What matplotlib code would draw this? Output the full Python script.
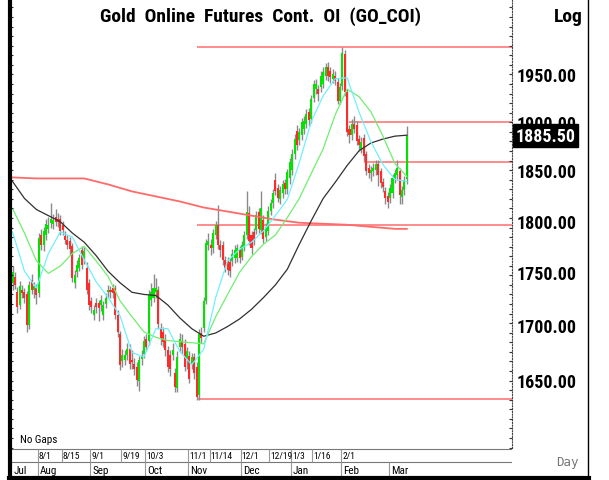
import os
import matplotlib
matplotlib.use("Agg")
import matplotlib.pyplot as plt
from matplotlib import font_manager as fm
from matplotlib.lines import Line2D
from matplotlib.ticker import NullLocator
import numpy as np

# daily bars, oldest first (mid Jul .. Mar)
opens = [1740, 1746, 1731, 1719, 1733, 1731, 1729, 1700, 1743, 1733, 1735, 1730, 1786, 1776, 1786, 1792, 1798, 1797, 1804, 1802,
         1802, 1796, 1785, 1781, 1780, 1775, 1740, 1750, 1754, 1771, 1763, 1754, 1740, 1723, 1710, 1721, 1721, 1719, 1710, 1720,
         1731, 1733, 1735, 1735, 1710, 1692, 1667, 1668, 1673, 1678, 1668, 1665, 1662, 1649, 1669, 1674, 1687, 1686, 1724, 1726,
         1731, 1733, 1698, 1694, 1687, 1677, 1673, 1673, 1656, 1643, 1680, 1686, 1683, 1670, 1672, 1664, 1671, 1662, 1637, 1693,
         1698, 1723, 1776, 1776, 1773, 1786, 1796, 1776, 1776, 1762, 1761, 1760, 1761, 1764, 1764, 1771, 1765, 1773, 1786, 1808,
         1786, 1789, 1791, 1809, 1791, 1801, 1784, 1790, 1810, 1817, 1840, 1832, 1821, 1827, 1837, 1831, 1842, 1850, 1867, 1890,
         1881, 1886, 1892, 1898, 1910, 1903, 1925, 1934, 1934, 1936, 1939, 1948, 1957, 1953, 1945, 1948, 1942, 1922, 1937, 1971,
         1931, 1892, 1886, 1898, 1897, 1882, 1872, 1883, 1867, 1853, 1847, 1849, 1850, 1857, 1849, 1838, 1829, 1824, 1822, 1827,
         1842, 1845, 1849, 1823, 1830, 1841]
highs = [1756, 1750, 1736, 1742, 1738, 1735, 1732, 1742, 1748, 1741, 1739, 1788, 1792, 1794, 1802, 1804, 1817, 1807, 1812, 1808,
         1806, 1800, 1790, 1786, 1784, 1778, 1752, 1762, 1768, 1775, 1774, 1760, 1744, 1727, 1719, 1726, 1724, 1728, 1723, 1730,
         1738, 1737, 1739, 1738, 1714, 1695, 1678, 1677, 1684, 1683, 1677, 1670, 1666, 1672, 1677, 1690, 1692, 1733, 1740, 1748,
         1745, 1737, 1702, 1699, 1692, 1681, 1677, 1684, 1661, 1676, 1693, 1692, 1687, 1680, 1676, 1675, 1675, 1666, 1697, 1699,
         1727, 1782, 1788, 1782, 1792, 1800, 1815, 1781, 1780, 1766, 1765, 1764, 1772, 1776, 1777, 1775, 1780, 1790, 1829, 1814,
         1790, 1793, 1810, 1813, 1829, 1806, 1798, 1814, 1821, 1831, 1847, 1836, 1834, 1840, 1841, 1852, 1863, 1872, 1887, 1896,
         1893, 1904, 1906, 1913, 1914, 1928, 1944, 1945, 1938, 1953, 1958, 1962, 1963, 1957, 1955, 1953, 1946, 1940, 1979, 1976,
         1934, 1896, 1903, 1906, 1901, 1886, 1884, 1887, 1870, 1857, 1855, 1858, 1861, 1861, 1853, 1842, 1833, 1828, 1836, 1846,
         1851, 1861, 1853, 1834, 1844, 1895]
lows = [1733, 1734, 1712, 1715, 1726, 1721, 1694, 1697, 1729, 1726, 1720, 1727, 1771, 1770, 1781, 1788, 1793, 1792, 1795, 1794,
        1786, 1786, 1777, 1772, 1767, 1741, 1735, 1746, 1751, 1753, 1758, 1729, 1714, 1712, 1705, 1712, 1704, 1713, 1705, 1716,
        1727, 1726, 1726, 1706, 1689, 1659, 1662, 1664, 1668, 1660, 1660, 1655, 1645, 1640, 1664, 1670, 1676, 1682, 1718, 1722,
        1726, 1697, 1682, 1680, 1672, 1657, 1654, 1668, 1639, 1639, 1676, 1674, 1658, 1660, 1647, 1660, 1651, 1632, 1632, 1684,
        1694, 1720, 1771, 1767, 1769, 1782, 1772, 1765, 1757, 1750, 1747, 1746, 1756, 1759, 1760, 1759, 1762, 1770, 1782, 1776,
        1768, 1776, 1787, 1788, 1787, 1778, 1780, 1786, 1806, 1813, 1825, 1818, 1816, 1822, 1826, 1826, 1836, 1845, 1862, 1871,
        1876, 1881, 1887, 1893, 1895, 1899, 1920, 1929, 1922, 1931, 1935, 1944, 1943, 1941, 1940, 1938, 1918, 1918, 1933, 1927,
        1885, 1878, 1881, 1888, 1876, 1870, 1868, 1860, 1845, 1842, 1839, 1844, 1845, 1834, 1832, 1828, 1816, 1813, 1817, 1822,
        1837, 1840, 1816, 1816, 1825, 1836]
closes = [1750, 1738, 1717, 1737, 1730, 1726, 1700, 1738, 1733, 1737, 1728, 1783, 1776, 1790, 1797, 1796, 1802, 1801, 1799, 1799,
          1790, 1791, 1781, 1776, 1772, 1745, 1747, 1757, 1764, 1757, 1770, 1733, 1719, 1717, 1714, 1717, 1716, 1724, 1719, 1726,
          1733, 1731, 1730, 1710, 1694, 1664, 1673, 1673, 1678, 1665, 1666, 1660, 1650, 1668, 1672, 1686, 1680, 1728, 1731, 1735,
          1735, 1701, 1687, 1685, 1677, 1662, 1660, 1677, 1644, 1671, 1687, 1680, 1662, 1676, 1651, 1671, 1656, 1635, 1692, 1688,
          1723, 1778, 1780, 1773, 1788, 1796, 1776, 1771, 1762, 1754, 1752, 1751, 1768, 1771, 1773, 1764, 1776, 1786, 1809, 1780,
          1773, 1781, 1806, 1792, 1813, 1782, 1794, 1810, 1817, 1827, 1829, 1822, 1830, 1836, 1831, 1848, 1859, 1867, 1882, 1876,
          1889, 1900, 1901, 1908, 1902, 1924, 1939, 1939, 1929, 1948, 1952, 1957, 1948, 1947, 1950, 1943, 1922, 1936, 1973, 1931,
          1889, 1886, 1898, 1892, 1880, 1876, 1879, 1865, 1849, 1847, 1850, 1853, 1857, 1845, 1837, 1833, 1822, 1818, 1832, 1842,
          1847, 1853, 1825, 1830, 1840, 1885.5]

# moving averages
ma_idx = list(range(0, 166, 5))
ma_cyan = [1789, 1751, 1735, 1768, 1789, 1784, 1762, 1741, 1726, 1709, 1675, 1671, 1697, 1697, 1676, 1664, 1678,
           1726, 1761, 1772, 1779, 1790, 1805, 1821, 1858, 1900, 1927, 1945, 1946, 1910, 1879, 1856, 1841, 1839]
ma_green = [1812, 1788, 1761, 1749, 1756, 1768, 1775, 1761, 1746, 1723, 1708, 1694, 1689, 1686, 1685, 1684, 1683,
            1708, 1729, 1750, 1765, 1777, 1786, 1803, 1822, 1847, 1872, 1907, 1934, 1926, 1910, 1885, 1857, 1844]
ma_black = [1839, 1822, 1811, 1805, 1799, 1788, 1779, 1766, 1751, 1740, 1731, 1729, 1728, 1719, 1707, 1697, 1690,
            1693, 1699, 1706, 1715, 1726, 1738, 1753, 1777, 1800, 1822, 1838, 1855, 1870, 1878, 1882, 1885, 1886]
red_idx = list(range(0, 161, 10)) + [165]
ma_red = [1843, 1842, 1842, 1842, 1836, 1829, 1824, 1819, 1813, 1809, 1805, 1801, 1798, 1797, 1796, 1794, 1792, 1792]

# horizontal levels and the bar they start from
levels = [1979, 1900, 1859, 1796, 1633]
level_start = [77, 141, 147, 77, 77]

price_ticks = [1650, 1700, 1750, 1800, 1850, 1900, 1950]
day_labels = ["8/1", "8/15", "9/1", "9/19", "10/3", "11/1", "11/14", "12/1", "12/19", "1/3", "1/16", "2/1"]
day_pos = [11, 21, 33, 46, 56, 74, 83, 96, 108, 117, 126, 138]
month_labels = ["Jul", "Aug", "Sep", "Oct", "Nov", "Dec", "Jan", "Feb", "Mar"]
month_pos = [0, 11, 33, 56, 74, 96, 117, 138, 158]
last_price = 1885.50


def narrow_font(bold):
    # look for an installed narrow/condensed face, else plain Liberation Sans
    if bold:
        names = ["LiberationSansNarrow-Bold.ttf", "RobotoCondensed-Bold.ttf", "NotoSans-CondensedBold.ttf",
                 "DejaVuSansCondensed-Bold.ttf", "OpenSans_Condensed-Bold.ttf", "OpenSans-CondensedBold.ttf"]
    else:
        names = ["LiberationSansNarrow-Regular.ttf", "RobotoCondensed-Regular.ttf", "NotoSans-Condensed.ttf",
                 "DejaVuSansCondensed.ttf", "OpenSans_Condensed-Regular.ttf", "OpenSans-Condensed.ttf"]
    files = {os.path.basename(f.fname): f.fname for f in fm.fontManager.ttflist}
    for n in names:
        if n in files:
            return fm.FontProperties(fname=files[n]), True
    return fm.FontProperties(family="Liberation Sans", weight="bold" if bold else "normal"), False


fb, is_narrow = narrow_font(True)
fr, _ = narrow_font(False)
k = 1.0 if is_narrow else 0.82

W, H = 609, 481
fig = plt.figure(figsize=(W / 100, H / 100), dpi=100)
fig.patch.set_facecolor("white")


def fx(px):
    return px / W


def fy(py):
    return 1 - py / H


def fp(base, size):
    p = base.copy()
    p.set_size(size)
    return p


ax = fig.add_axes([fx(10), fy(449), fx(502), 449 / H])
x0, dx = -1.05, 210.05
ax.set_xlim(x0, x0 + dx)
ax.set_yscale("log")
ax.set_ylim(1590, 2031.5)

o = np.array(opens, dtype=float)
c = np.array(closes, dtype=float)
idx = np.arange(len(c))
up = c >= o
lo = np.minimum(o, c)
hi = np.maximum(o, c)

ax.vlines(idx, lows, highs, color="#8a8a8a", lw=1, zorder=2)
ax.bar(idx[up], (hi - lo)[up], bottom=lo[up], width=0.85, color="#00e400", lw=0, zorder=3)
ax.bar(idx[~up], (hi - lo)[~up], bottom=lo[~up], width=0.85, color="#ff2a2a", lw=0, zorder=3)

ax.plot(red_idx, ma_red, color="#ff6a6a", lw=1.3, zorder=4)
ax.plot(ma_idx, ma_black, color="#303030", lw=0.9, zorder=4)
ax.plot(ma_idx, ma_green, color="#70ee70", lw=0.9, zorder=4)
ax.plot(ma_idx, ma_cyan, color="#70f0ff", lw=0.9, zorder=4)

ax.hlines(levels, level_start, x0 + dx, colors="#ff8c8c", lw=1.4, zorder=1)

for s in ["top", "bottom", "left"]:
    ax.spines[s].set_visible(False)
ax.spines["right"].set_linestyle((0, (1, 1.5)))
ax.spines["right"].set_color("#444444")
ax.spines["right"].set_linewidth(0.8)

ax.set_xticks([])
ax.yaxis.tick_right()
ax.yaxis.set_minor_locator(NullLocator())
ax.set_yticks(price_ticks)
ax.set_yticklabels([f"{v:.2f}" for v in price_ticks], fontproperties=fp(fb, 13 * k))
ax.tick_params(axis="y", length=0, pad=3)

ax.annotate(f"{last_price:.2f}", xy=(1, last_price), xycoords=("axes fraction", "data"),
            xytext=(2.5, 0), textcoords="offset points", ha="left", va="center",
            color="white", fontproperties=fp(fb, 13 * k),
            bbox=dict(boxstyle="square,pad=0.12", fc="black", ec="black"),
            annotation_clip=False, zorder=10)

# small tick marks on the left border and on the dotted price line
tk = fig.add_axes(ax.get_position(), frameon=False)
tk.set_xlim(0, 1)
tk.set_ylim(449, 0)
tk.set_xticks([])
tk.set_yticks(np.arange(8.4, 449, 9.57))
tk.tick_params(axis="y", direction="in", length=2.5, width=0.8, left=True, right=True,
               labelleft=False, labelright=False, color="#333333")

# date strip
ds = fig.add_axes([fx(10), fy(479), fx(502), 30 / H])
ds.set_xlim(x0, x0 + dx)
ds.set_ylim(30, 0)
ds.axis("off")
ds.hlines([0.5, 14], x0, x0 + dx, colors="#777777", lw=0.8)
ds.vlines(np.array(day_pos) - 0.5, 0.5, 14, colors="#999999", lw=0.8)
ds.vlines(np.array(month_pos[1:]) - 0.5, 14, 30, colors="#999999", lw=0.8)
for lab, p in zip(day_labels, day_pos):
    ds.text(p - 0.1, 7.5, lab, ha="left", va="center", fontproperties=fp(fr, 6.8 * k))
for lab, p in zip(month_labels, month_pos):
    ds.text(p + 0.4, 22.5, lab, ha="left", va="center", fontproperties=fp(fr, 8 * k))

fig.text(fx(20), fy(440), "No Gaps", va="center", fontproperties=fp(fr, 8 * k))
fig.text(fx(260), fy(17), "Gold  Online  Futures  Cont.  OI  (GO_COI)", ha="center", va="center",
         fontproperties=fp(fb, 14 * k))
fig.text(fx(568), fy(17), "Log", ha="center", va="center", fontproperties=fp(fb, 14 * k))
fig.text(fx(567), fy(463), "Day", ha="center", va="center", fontsize=9, color="#777777", family="DejaVu Sans Mono")

# frame lines
fig.add_artist(Line2D([fx(10), fx(10)], [0, 1], color="black", lw=3))
fig.add_artist(Line2D([fx(588), fx(588)], [fy(479), 1], color="black", lw=1))
fig.add_artist(Line2D([fx(9), fx(589)], [fy(479), fy(479)], color="black", lw=3))

fig.savefig("out.png", dpi=100)
